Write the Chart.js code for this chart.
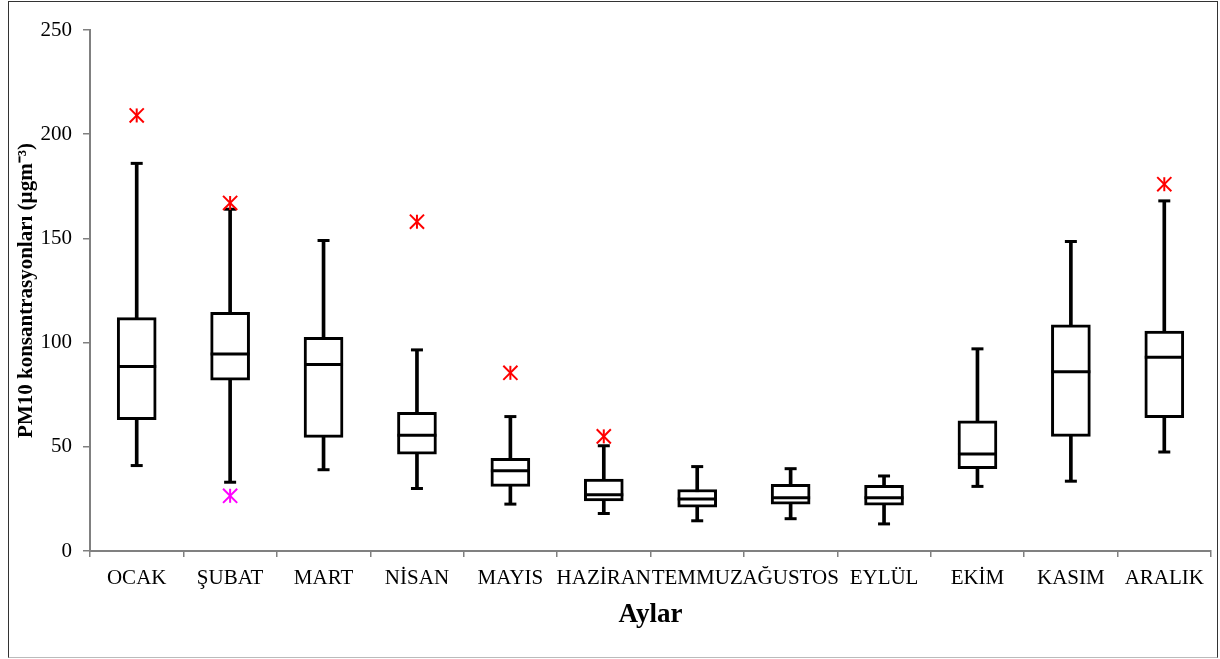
<!DOCTYPE html>
<html>
<head>
<meta charset="utf-8">
<script src="https://cdn.jsdelivr.net/npm/chart.js@4/dist/chart.umd.min.js"></script>
<style>
  body { margin: 0; background: #fff; }
  #wrap { position: relative; width: 1220px; height: 659px; }
  #frame { position: absolute; left: 8px; top: 1px; width: 1208px; height: 655px;
           border: 1px solid #333; border-bottom-color: #bbb; pointer-events: none; }
</style>
</head>
<body>
<div id="wrap">
  <canvas id="boxChart" width="1220" height="659"></canvas>
  <div id="frame"></div>
</div>
<script>
// Aylara göre PM10 kutu grafiği

let
    // Aylar
    months = ['OCAK', 'ŞUBAT', 'MART', 'NİSAN', 'MAYIS', 'HAZİRAN', 'TEMMUZ', 'AĞUSTOS', 'EYLÜL', 'EKİM', 'KASIM', 'ARALIK'],
    // Bıyık alt uçları
    minValues = [41, 33, 39, 30, 22.5, 18, 14.5, 15.5, 13, 31, 33.5, 47.5],
    // Birinci çeyrek
    q1Values = [63, 82, 54.5, 46.5, 31, 24, 21, 22.5, 22, 39.5, 55, 64],
    // Medyan
    medianValues = [88.5, 94.5, 89.5, 55.5, 38.5, 27, 25, 25.5, 25.5, 46.5, 86, 93],
    // Üçüncü çeyrek
    q3Values = [112, 114.5, 102.5, 66.5, 44.5, 34.5, 29.5, 32, 31.5, 62.5, 108.5, 105.5],
    // Bıyık üst uçları
    maxValues = [186, 164, 149, 96.5, 64.5, 50.5, 40.5, 39.5, 36, 97, 148.5, 168],
    // Aykırı değerler (üst, kırmızı)
    outHighValues = [209, 167, null, 158, 85.5, 55, null, null, null, null, null, 176],
    // Aykırı değerler (alt, pembe)
    outLowValues = [null, 26.5, null, null, null, null, null, null, null, null, null, null],
    // Y ekseni
    yTicks = [0, 50, 100, 150, 200, 250];

let
    serif = 'Liberation Serif',
    axisGray = '#808080',
    ctx = document.getElementById('boxChart').getContext('2d');

function outlierSets(values, color) {
  // yıldız: çapraz + dikey çizgi
  return [
    {
      type: 'line', data: values, showLine: false, order: 0,
      pointStyle: 'crossRot', pointRadius: 10, pointBorderWidth: 2,
      pointBorderColor: color, pointBackgroundColor: color
    },
    {
      type: 'line', data: values, showLine: false, order: 0,
      pointStyle: 'line', pointRotation: 90, pointRadius: 7, pointBorderWidth: 2,
      pointBorderColor: color, pointBackgroundColor: color
    }
  ];
}

let boxChart = new Chart(ctx, {
  type: 'bar',
  data: {
    labels: months,
    datasets: [
      // bıyık gövdesi
      {
        data: months.map((m, i) => [minValues[i], maxValues[i]]),
        backgroundColor: '#000', borderWidth: 0,
        barThickness: 3, grouped: false, order: 5
      },
      // kutular
      {
        data: months.map((m, i) => [q1Values[i], q3Values[i]]),
        backgroundColor: '#fff', borderColor: '#000', borderWidth: 3,
        borderSkipped: false, barThickness: 39, grouped: false, order: 4
      },
      // medyan çizgisi
      {
        type: 'line', data: medianValues, showLine: false, order: 1,
        pointStyle: 'line', pointRadius: 19.5, pointBorderWidth: 3, pointBorderColor: '#000'
      },
      // bıyık uçları
      {
        type: 'line', data: maxValues, showLine: false, order: 1,
        pointStyle: 'line', pointRadius: 6, pointBorderWidth: 3, pointBorderColor: '#000'
      },
      {
        type: 'line', data: minValues, showLine: false, order: 1,
        pointStyle: 'line', pointRadius: 6, pointBorderWidth: 3, pointBorderColor: '#000'
      },
      ...outlierSets(outHighValues, '#ff0000'),
      ...outlierSets(outLowValues, '#ff00ff')
    ]
  },
  options: {
    responsive: false,
    animation: false,
    layout: { autoPadding: false, padding: { left: 0, top: 30, right: 9, bottom: 0 } },
    plugins: { legend: { display: false }, tooltip: { enabled: false } },
    scales: {
      x: {
        offset: true,
        afterFit: s => { s.height = 108; s.paddingLeft = 0; s.paddingRight = 0; },
        grid: { offset: true, drawOnChartArea: false, drawTicks: true, tickLength: 6, color: axisGray, lineWidth: 1.5 },
        border: { color: axisGray, width: 2 },
        ticks: { autoSkip: false, maxRotation: 0, minRotation: 0, padding: 9, color: '#000',
                 font: { family: serif, size: 21 } },
        title: { display: true, text: 'Aylar', color: '#000', padding: { top: 0, bottom: 28 },
                 font: { family: serif, size: 27, weight: 'bold' } }
      },
      y: {
        min: 0, max: 250,
        afterFit: s => { s.width = 90; s.paddingTop = 0; s.paddingBottom = 0; },
        afterBuildTicks: s => { s.ticks = yTicks.map(v => ({ value: v })); },
        grid: { drawOnChartArea: false, drawTicks: true, tickLength: 7, color: axisGray, lineWidth: 1.5 },
        border: { color: axisGray, width: 2 },
        ticks: { padding: 11, color: '#000', font: { family: serif, size: 21 } },
        title: { display: true, text: 'PM10 konsantrasyonları (µgm⁻³)', color: '#000',
                 padding: { top: 14, bottom: 0 }, font: { family: serif, size: 21, weight: 'bold' } }
      }
    }
  }
});
</script>
</body>
</html>
